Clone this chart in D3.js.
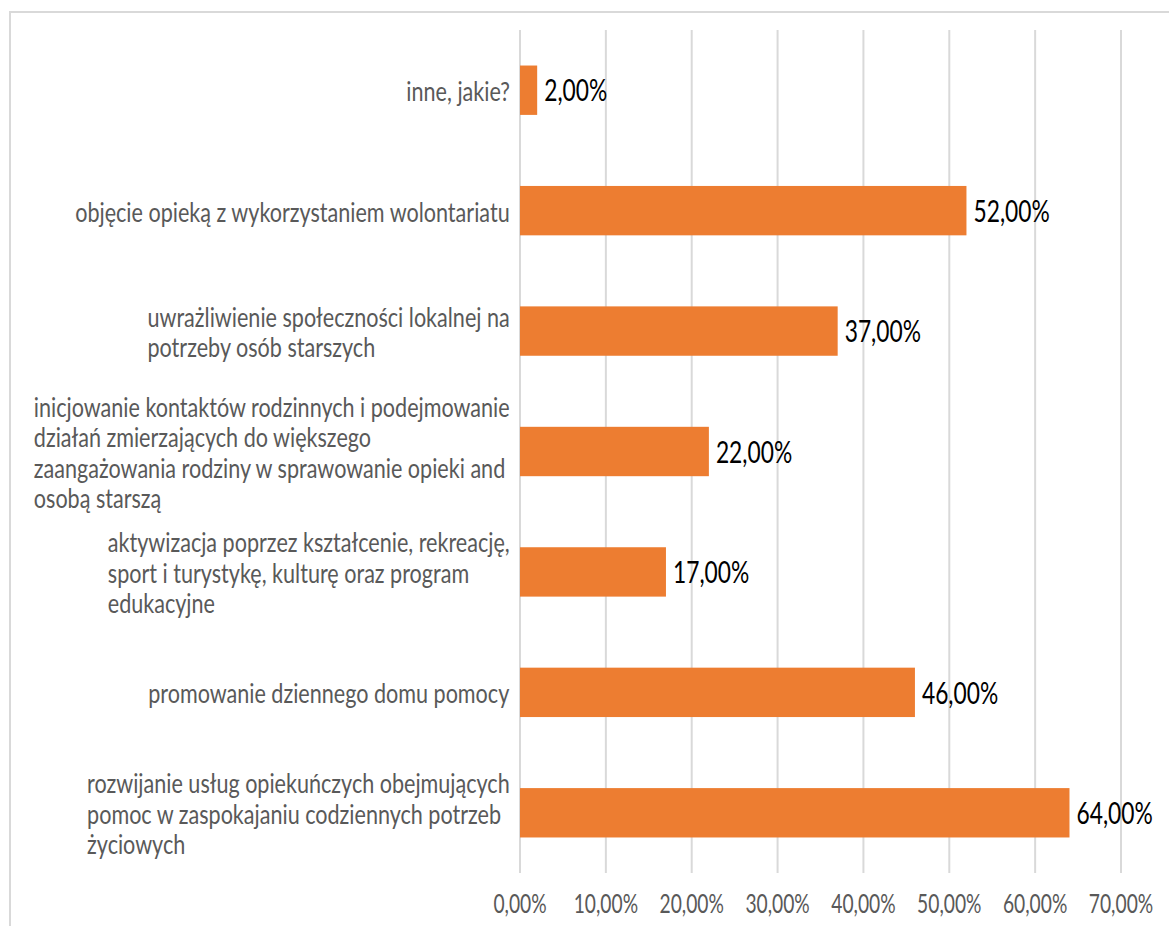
<!DOCTYPE html>
<html>
<head>
<meta charset="utf-8">
<script src="https://cdn.jsdelivr.net/npm/d3@7"></script>
<style>
  body { margin: 0; background: #fff; }
  text { font-family: Lato, "Open Sans", sans-serif; }
</style>
</head>
<body>
<svg></svg>
<script>
const width = 1169;
const height = 926;

// categories top to bottom, each label already split in lines like the original
const categories = ['inne', 'wolontariat', 'uwrazliwienie', 'kontakty', 'aktywizacja', 'ddp', 'uslugi'];
const labelLines = [
    ['inne, jakie?'],
    ['objęcie opieką z wykorzystaniem wolontariatu'],
    ['uwrażliwienie społeczności lokalnej na', 'potrzeby osób starszych'],
    ['inicjowanie kontaktów rodzinnych i podejmowanie', 'działań zmierzających do większego', 'zaangażowania rodziny w sprawowanie opieki and', 'osobą starszą'],
    ['aktywizacja poprzez kształcenie, rekreację,', 'sport i turystykę, kulturę oraz program', 'edukacyjne'],
    ['promowanie dziennego domu pomocy'],
    ['rozwijanie usług opiekuńczych obejmujących', 'pomoc w zaspokajaniu codziennych potrzeb', 'życiowych']
];
const values = [2, 52, 37, 22, 17, 46, 64];
const ticks = [0, 10, 20, 30, 40, 50, 60, 70];

const fmt = v => v.toFixed(2).replace('.', ',') + '%';

const svg = d3.select('svg')
    .attr('width', width).attr('height', height);

// chart border (runs off the right/bottom edge like the crop)
svg.append('rect')
    .attr('x', 10).attr('y', 12)
    .attr('width', 1180).attr('height', 940)
    .attr('fill', '#fff')
    .attr('stroke', '#d9d9d9')
    .attr('stroke-width', 2);

const x = d3.scaleLinear().domain([0, 70]).range([520, 1121]);
const y = d3.scaleBand().domain(categories).range([30, 873])
    .paddingInner(0.59).paddingOuter(0.295);

// gridlines
svg.append('g').selectAll('line')
    .data(ticks)
    .enter().append('line')
    .attr('x1', d => x(d)).attr('x2', d => x(d))
    .attr('y1', 30).attr('y2', 873)
    .attr('stroke', '#d9d9d9')
    .attr('stroke-width', 2);

// bars
svg.append('g').selectAll('rect')
    .data(values)
    .enter().append('rect')
    .attr('x', x(0))
    .attr('y', (d, i) => y(categories[i]))
    .attr('width', d => x(d) - x(0))
    .attr('height', y.bandwidth())
    .attr('fill', '#ED7D31');

// squeezed text helper, the original text is narrow and tall
function narrowText(parent, tx, ty, txt, size, kx, anchor, color) {
    const g = parent.append('g')
        .attr('transform', `translate(${tx},${ty}) scale(${kx},1)`);
    g.append('text')
        .attr('text-anchor', anchor)
        .attr('dominant-baseline', 'central')
        .attr('font-size', size)
        .attr('fill', color)
        .text(txt);
    return g;
}

// value labels
const valueG = svg.append('g');
values.forEach((v, i) => {
    narrowText(valueG, x(v) + 7, y(categories[i]) + y.bandwidth() / 2, fmt(v), 30, 0.76, 'start', '#000');
});

// axis tick labels
const axisG = svg.append('g');
ticks.forEach(t => {
    narrowText(axisG, x(t), 903, fmt(t), 26, 0.74, 'middle', '#595959');
});

// category labels: lines left aligned, block right aligned to the axis
const lineH = 30.5;
const catKx = 0.83;
const catG = svg.append('g');
labelLines.forEach((lines, i) => {
    const cy = y(categories[i]) + y.bandwidth() / 2;
    const g = catG.append('g');
    const t = g.append('text')
        .attr('font-size', 26)
        .attr('fill', '#595959')
        .attr('dominant-baseline', 'central');
    lines.forEach((l, j) => {
        t.append('tspan')
            .attr('x', 0)
            .attr('y', (j - (lines.length - 1) / 2) * lineH)
            .text(l);
    });
    const w = t.node().getBBox().width * catKx;
    g.attr('transform', `translate(${510 - w},${cy}) scale(${catKx},1)`);
});
</script>
</body>
</html>
